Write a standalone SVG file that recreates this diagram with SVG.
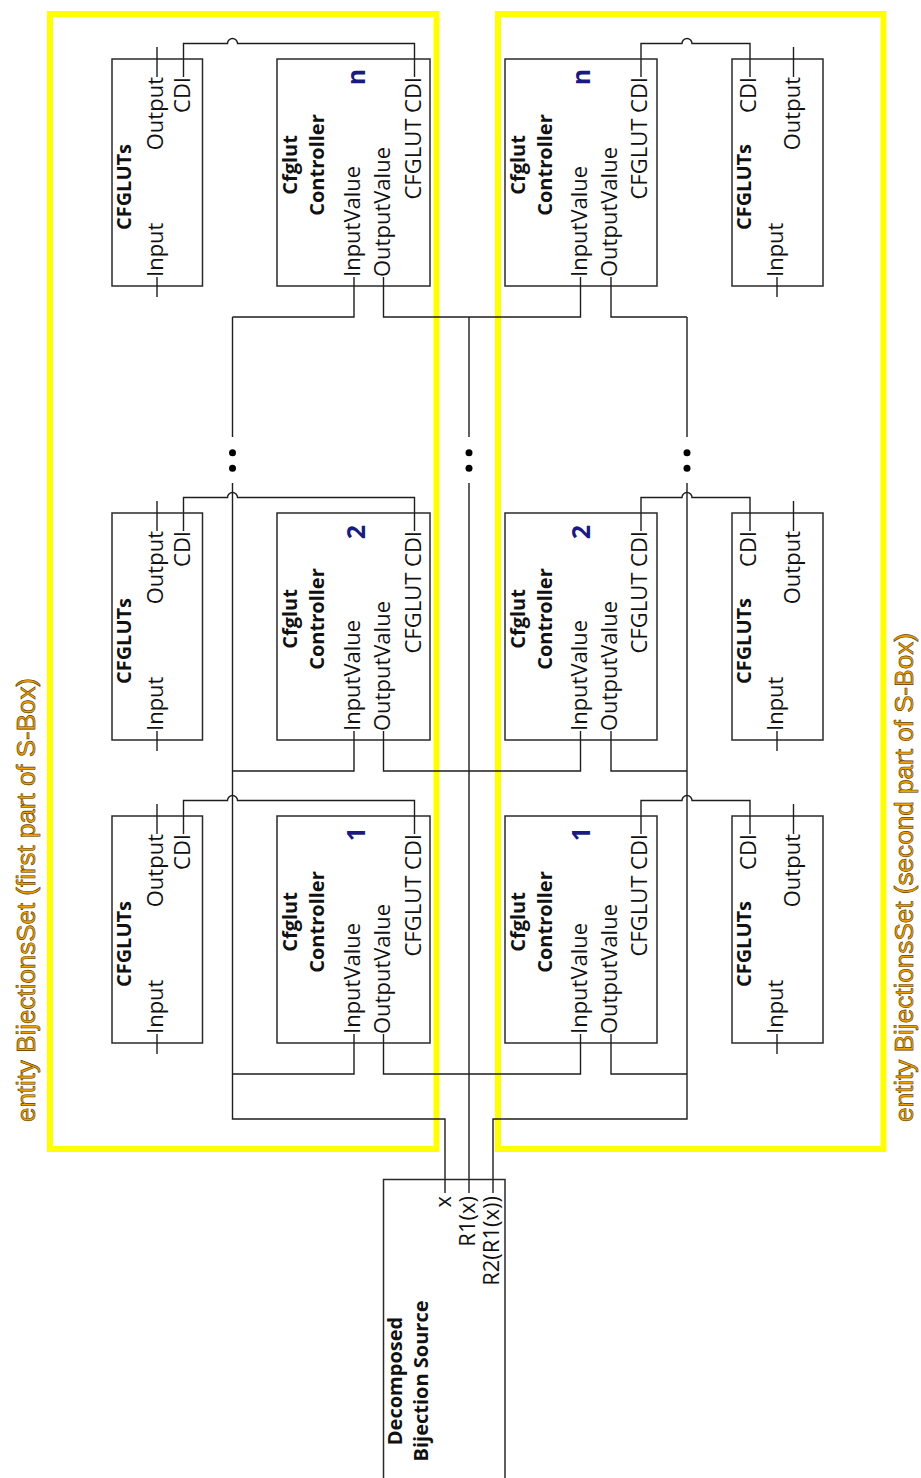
<svg xmlns="http://www.w3.org/2000/svg" xmlns:xlink="http://www.w3.org/1999/xlink" width="921" height="1478" viewBox="0 0 921 1478">
<style>
.bg{fill:#ffffff}
.ent{fill:none;stroke:#ffff00;stroke-width:6}
.box{fill:#ffffff;stroke:#2a2a2a;stroke-width:1.5}
.w{fill:none;stroke:#1e1e1e;stroke-width:1.4}
.dot{fill:#000000}
.t{font-family:"Open Sans","Liberation Sans",sans-serif;font-size:22px;fill:#111111}
.b{font-family:"Open Sans","Liberation Sans",sans-serif;font-size:20px;font-weight:bold;fill:#111111}
.num{font-family:"Open Sans","Liberation Sans",sans-serif;font-size:25px;font-weight:bold;fill:#1a1a80}
.lbl{font-family:"Liberation Sans Narrow","Liberation Sans",sans-serif;font-size:25px;fill:#f0a000;stroke:#5a3a00;stroke-width:0.6}
.s{text-anchor:start}
.e{text-anchor:end}
.m{text-anchor:middle}
</style>
<rect class="bg" x="0" y="0" width="921" height="1478"/>

<g id="entity-first">
<rect class="ent" x="50" y="14" width="386.5" height="1135"/>
<text class="lbl s" transform="translate(35,1122) rotate(-90)" textLength="444" lengthAdjust="spacingAndGlyphs">entity BijectionsSet (first part of S-Box)</text>
</g>
<g id="entity-second">
<rect class="ent" x="498" y="14" width="385.5" height="1135"/>
<text class="lbl s" transform="translate(913,1122) rotate(-90)" textLength="489" lengthAdjust="spacingAndGlyphs">entity BijectionsSet (second part of S-Box)</text>
</g>

<g id="connectors">
<!-- bus A: x to InputValue of left controllers -->
<path class="w" d="M232.5,317 V437 M232.5,483 V1119 H445 V1179.5"/>
<!-- bus B: R1(x) -->
<path class="w" d="M469,317 V437 M469,483 V1179.5"/>
<!-- bus C: R2(R1(x)) -->
<path class="w" d="M687,317 V437 M687,483 V1119 H493 V1179.5"/>
<circle class="dot" cx="232.5" cy="452.7" r="3.5"/><circle class="dot" cx="232.5" cy="468.3" r="3.5"/>
<circle class="dot" cx="469" cy="452.7" r="3.5"/><circle class="dot" cx="469" cy="468.3" r="3.5"/>
<circle class="dot" cx="687" cy="452.7" r="3.5"/><circle class="dot" cx="687" cy="468.3" r="3.5"/>
<!-- row n -->
<path class="w" d="M354,297 V317 H232.5"/>
<path class="w" d="M383.5,297 V317 H580.5 V297"/>
<path class="w" d="M611,297 V317 H687"/>
<path class="w" d="M183.5,59 V43.5 H227.5 a5,5 0 0 1 10,0 H414.5 V59"/>
<path class="w" d="M641,59 V43.5 H682 a5,5 0 0 1 10,0 H750 V59"/>
<!-- row 2 -->
<path class="w" d="M354,751 V771 H232.5"/>
<path class="w" d="M383.5,751 V771 H580.5 V751"/>
<path class="w" d="M611,751 V771 H687"/>
<path class="w" d="M183.5,513 V497.5 H227.5 a5,5 0 0 1 10,0 H414.5 V513"/>
<path class="w" d="M641,513 V497.5 H682 a5,5 0 0 1 10,0 H750 V513"/>
<!-- row 1 -->
<path class="w" d="M354,1054 V1074 H232.5"/>
<path class="w" d="M383.5,1054 V1074 H580.5 V1054"/>
<path class="w" d="M611,1054 V1074 H687"/>
<path class="w" d="M183.5,816 V800.5 H227.5 a5,5 0 0 1 10,0 H414.5 V816"/>
<path class="w" d="M641,816 V800.5 H682 a5,5 0 0 1 10,0 H750 V816"/>
</g>

<!-- ===== Row n (top) ===== -->
<g id="cfgluts-left-n">
<rect class="box" x="112" y="59" width="90.5" height="227"/>
<path class="w" d="M157,77 V47 M157,277 V297 M183.5,77 V59"/>
<text class="b m" transform="translate(131,187) rotate(-90)">CFGLUTs</text>
<text class="t s" transform="translate(163,277) rotate(-90)">Input</text>
<text class="t e" transform="translate(163,77) rotate(-90)">Output</text>
<text class="t e" transform="translate(189.5,77) rotate(-90)">CDI</text>
</g>
<g id="controller-left-n">
<rect class="box" x="277" y="59" width="153" height="227"/>
<path class="w" d="M354,277 V297 M383.5,277 V297 M414.5,77 V59"/>
<text class="b m" transform="translate(297,165) rotate(-90)">Cfglut</text>
<text class="b m" transform="translate(324,165) rotate(-90)">Controller</text>
<text class="num m" transform="translate(365,77) rotate(-90)">n</text>
<text class="t s" transform="translate(360,277) rotate(-90)">InputValue</text>
<text class="t s" transform="translate(389.5,277) rotate(-90)">OutputValue</text>
<text class="t e" transform="translate(420.5,77) rotate(-90)">CFGLUT CDI</text>
</g>
<g id="controller-right-n">
<rect class="box" x="505" y="59" width="152" height="227"/>
<path class="w" d="M580.5,277 V297 M611,277 V297 M641,77 V59"/>
<text class="b m" transform="translate(525,165) rotate(-90)">Cfglut</text>
<text class="b m" transform="translate(552,165) rotate(-90)">Controller</text>
<text class="num m" transform="translate(590,77) rotate(-90)">n</text>
<text class="t s" transform="translate(586.5,277) rotate(-90)">InputValue</text>
<text class="t s" transform="translate(617,277) rotate(-90)">OutputValue</text>
<text class="t e" transform="translate(647,77) rotate(-90)">CFGLUT CDI</text>
</g>
<g id="cfgluts-right-n">
<rect class="box" x="732" y="59" width="91" height="227"/>
<path class="w" d="M793.5,77 V47 M777,277 V297 M750,77 V59"/>
<text class="b m" transform="translate(751,187) rotate(-90)">CFGLUTs</text>
<text class="t s" transform="translate(783,277) rotate(-90)">Input</text>
<text class="t e" transform="translate(799.5,77) rotate(-90)">Output</text>
<text class="t e" transform="translate(756,77) rotate(-90)">CDI</text>
</g>

<!-- ===== Row 2 ===== -->
<g id="cfgluts-left-2">
<rect class="box" x="112" y="513" width="90.5" height="227"/>
<path class="w" d="M157,531 V501 M157,731 V751 M183.5,531 V513"/>
<text class="b m" transform="translate(131,641) rotate(-90)">CFGLUTs</text>
<text class="t s" transform="translate(163,731) rotate(-90)">Input</text>
<text class="t e" transform="translate(163,531) rotate(-90)">Output</text>
<text class="t e" transform="translate(189.5,531) rotate(-90)">CDI</text>
</g>
<g id="controller-left-2">
<rect class="box" x="277" y="513" width="153" height="227"/>
<path class="w" d="M354,731 V751 M383.5,731 V751 M414.5,531 V513"/>
<text class="b m" transform="translate(297,619) rotate(-90)">Cfglut</text>
<text class="b m" transform="translate(324,619) rotate(-90)">Controller</text>
<text class="num m" transform="translate(365,532) rotate(-90)">2</text>
<text class="t s" transform="translate(360,731) rotate(-90)">InputValue</text>
<text class="t s" transform="translate(389.5,731) rotate(-90)">OutputValue</text>
<text class="t e" transform="translate(420.5,531) rotate(-90)">CFGLUT CDI</text>
</g>
<g id="controller-right-2">
<rect class="box" x="505" y="513" width="152" height="227"/>
<path class="w" d="M580.5,731 V751 M611,731 V751 M641,531 V513"/>
<text class="b m" transform="translate(525,619) rotate(-90)">Cfglut</text>
<text class="b m" transform="translate(552,619) rotate(-90)">Controller</text>
<text class="num m" transform="translate(590,532) rotate(-90)">2</text>
<text class="t s" transform="translate(586.5,731) rotate(-90)">InputValue</text>
<text class="t s" transform="translate(617,731) rotate(-90)">OutputValue</text>
<text class="t e" transform="translate(647,531) rotate(-90)">CFGLUT CDI</text>
</g>
<g id="cfgluts-right-2">
<rect class="box" x="732" y="513" width="91" height="227"/>
<path class="w" d="M793.5,531 V501 M777,731 V751 M750,531 V513"/>
<text class="b m" transform="translate(751,641) rotate(-90)">CFGLUTs</text>
<text class="t s" transform="translate(783,731) rotate(-90)">Input</text>
<text class="t e" transform="translate(799.5,531) rotate(-90)">Output</text>
<text class="t e" transform="translate(756,531) rotate(-90)">CDI</text>
</g>

<!-- ===== Row 1 ===== -->
<g id="cfgluts-left-1">
<rect class="box" x="112" y="816" width="90.5" height="227"/>
<path class="w" d="M157,834 V804 M157,1034 V1054 M183.5,834 V816"/>
<text class="b m" transform="translate(131,944) rotate(-90)">CFGLUTs</text>
<text class="t s" transform="translate(163,1034) rotate(-90)">Input</text>
<text class="t e" transform="translate(163,834) rotate(-90)">Output</text>
<text class="t e" transform="translate(189.5,834) rotate(-90)">CDI</text>
</g>
<g id="controller-left-1">
<rect class="box" x="277" y="816" width="153" height="227"/>
<path class="w" d="M354,1034 V1054 M383.5,1034 V1054 M414.5,834 V816"/>
<text class="b m" transform="translate(297,922) rotate(-90)">Cfglut</text>
<text class="b m" transform="translate(324,922) rotate(-90)">Controller</text>
<text class="num m" transform="translate(365,834) rotate(-90)">1</text>
<text class="t s" transform="translate(360,1034) rotate(-90)">InputValue</text>
<text class="t s" transform="translate(389.5,1034) rotate(-90)">OutputValue</text>
<text class="t e" transform="translate(420.5,834) rotate(-90)">CFGLUT CDI</text>
</g>
<g id="controller-right-1">
<rect class="box" x="505" y="816" width="152" height="227"/>
<path class="w" d="M580.5,1034 V1054 M611,1034 V1054 M641,834 V816"/>
<text class="b m" transform="translate(525,922) rotate(-90)">Cfglut</text>
<text class="b m" transform="translate(552,922) rotate(-90)">Controller</text>
<text class="num m" transform="translate(590,834) rotate(-90)">1</text>
<text class="t s" transform="translate(586.5,1034) rotate(-90)">InputValue</text>
<text class="t s" transform="translate(617,1034) rotate(-90)">OutputValue</text>
<text class="t e" transform="translate(647,834) rotate(-90)">CFGLUT CDI</text>
</g>
<g id="cfgluts-right-1">
<rect class="box" x="732" y="816" width="91" height="227"/>
<path class="w" d="M793.5,834 V804 M777,1034 V1054 M750,834 V816"/>
<text class="b m" transform="translate(751,944) rotate(-90)">CFGLUTs</text>
<text class="t s" transform="translate(783,1034) rotate(-90)">Input</text>
<text class="t e" transform="translate(799.5,834) rotate(-90)">Output</text>
<text class="t e" transform="translate(756,834) rotate(-90)">CDI</text>
</g>

<!-- ===== Source ===== -->
<g id="bijection-source">
<rect class="box" x="383.5" y="1179.5" width="121.5" height="320"/>
<path class="w" d="M445,1179.5 V1193 M469,1179.5 V1193 M493,1179.5 V1193"/>
<text class="b m" transform="translate(402,1381) rotate(-90)">Decomposed</text>
<text class="b m" transform="translate(428,1381) rotate(-90)">Bijection Source</text>
<text class="t e" transform="translate(451,1196) rotate(-90)">x</text>
<text class="t e" transform="translate(475,1196) rotate(-90)">R1(x)</text>
<text class="t e" transform="translate(499,1196) rotate(-90)">R2(R1(x))</text>
</g>
</svg>
